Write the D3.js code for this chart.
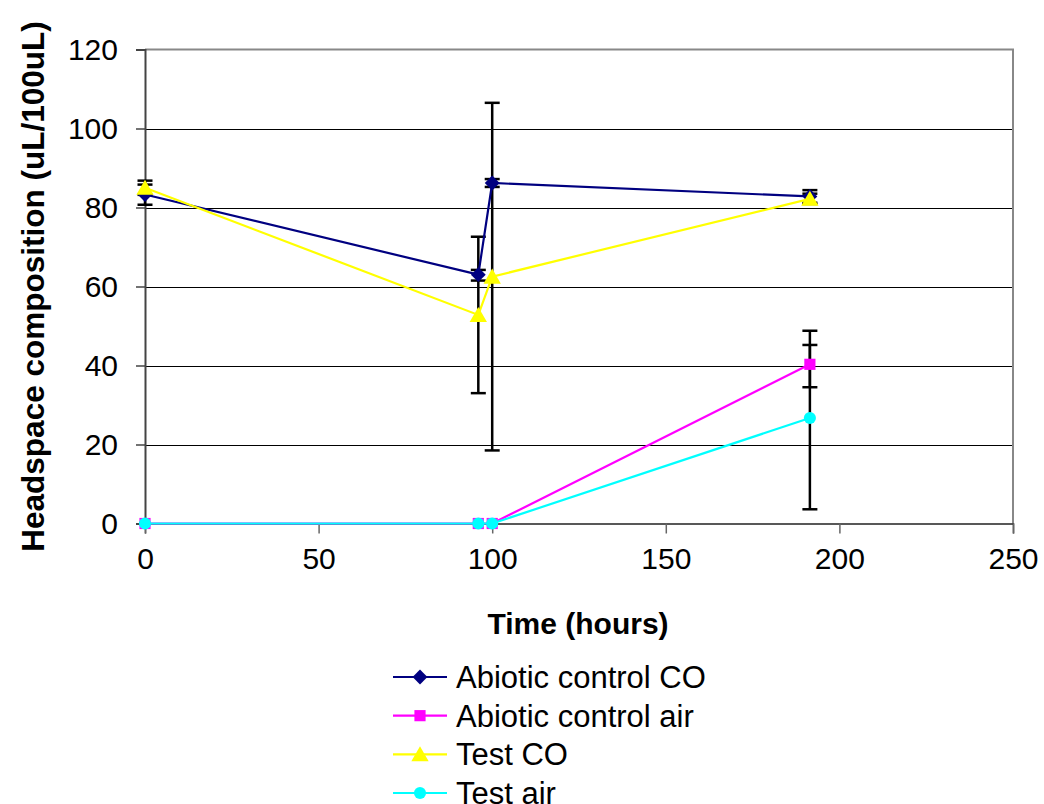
<!DOCTYPE html>
<html>
<head>
<meta charset="utf-8">
<script src="https://cdn.jsdelivr.net/npm/d3@7"></script>
<style>
  html, body { margin: 0; padding: 0; background: #fff; }
  svg { display: block; font-family: Arial, "Liberation Sans", sans-serif; }
</style>
</head>
<body>
<svg id="chart" width="1044" height="804"></svg>
<script>
// Sampling times (hours)
const times = [0, 96, 100, 191.5];

// Series names, colours and marker shapes
const seriesNames = ["Abiotic control CO", "Abiotic control air", "Test CO", "Test air"];
const seriesColors = ["#000080", "#FF00FF", "#FFFF00", "#00FFFF"];
const seriesSymbols = ["diamond", "square", "triangle", "circle"];

// Headspace composition (uL/100uL)
const abioticCO  = [83.3, 63.0, 86.2, 82.8];
const abioticAir = [0, 0, 0, 40.3];
const testCO     = [85.0, 52.8, 62.5, 82.2];
const testAir    = [0, 0, 0, 26.7];

// Error bar extents above / below each value
const abioticCOErrUp   = [2.5, 1.2, 1.0, 1.6];
const abioticCOErrDown = [2.6, 1.5, 1.0, 1.6];
const abioticAirErrUp   = [0, 0, 0, 8.5];
const abioticAirErrDown = [0, 0, 0, 5.8];
const testCOErrUp   = [1.8, 19.8, 44.0, 1.3];
const testCOErrDown = [1.8, 19.8, 44.0, 1.3];
const testAirErrUp   = [0, 0, 0, 18.5];
const testAirErrDown = [0, 0, 0, 23.1];

// Axis ticks
const xTicks = [0, 50, 100, 150, 200, 250];
const yTicks = [0, 20, 40, 60, 80, 100, 120];

const seriesValues = [abioticCO, abioticAir, testCO, testAir];
const errUp = [abioticCOErrUp, abioticAirErrUp, testCOErrUp, testAirErrUp];
const errDown = [abioticCOErrDown, abioticAirErrDown, testCOErrDown, testAirErrDown];

const series = seriesNames.map((name, i) => ({
  name,
  color: seriesColors[i],
  symbol: seriesSymbols[i],
  points: times.map((t, j) => ({ t, v: seriesValues[i][j], up: errUp[i][j], down: errDown[i][j] }))
}));

const svg = d3.select("#chart");
const plot = { left: 145, right: 1013, top: 49.5, bottom: 523.5 };

const x = d3.scaleLinear().domain([0, 250]).range([plot.left, plot.right]);
const y = d3.scaleLinear().domain([0, 120]).range([plot.bottom, plot.top]);

// Horizontal gridlines
svg.append("g")
  .selectAll("line")
  .data(yTicks.filter(d => d > 0 && d < 120))
  .join("line")
  .attr("x1", plot.left).attr("x2", plot.right)
  .attr("y1", d => Math.round(y(d)) + 0.5).attr("y2", d => Math.round(y(d)) + 0.5)
  .attr("stroke", "#000").attr("stroke-width", 1);

// Plot-area frame (top and right)
svg.append("path")
  .attr("d", `M${plot.left},${plot.top}H${plot.right}V${plot.bottom}`)
  .attr("fill", "none").attr("stroke", "#888").attr("stroke-width", 2);

// Y axis
const yAxis = svg.append("g")
  .attr("transform", `translate(${plot.left},0)`)
  .call(d3.axisLeft(y).tickValues(yTicks).tickSize(9).tickPadding(18).tickFormat(d3.format("d")));
yAxis.select(".domain").attr("stroke", "#444").attr("stroke-width", 2);
yAxis.selectAll(".tick line").attr("stroke", "#444").attr("stroke-width", 1.5);
yAxis.selectAll(".tick text")
  .attr("font-size", 30).attr("fill", "#000")
  .attr("font-family", "Arial, 'Liberation Sans', sans-serif");

// X axis
const xAxis = svg.append("g")
  .attr("transform", `translate(0,${plot.bottom})`)
  .call(d3.axisBottom(x).tickValues(xTicks).tickSize(10).tickPadding(14).tickFormat(d3.format("d")));
xAxis.select(".domain").attr("stroke", "#222").attr("stroke-width", 1.5);
xAxis.selectAll(".tick line").attr("stroke", "#666").attr("stroke-width", 1.5);
xAxis.selectAll(".tick text")
  .attr("font-size", 30).attr("fill", "#000")
  .attr("font-family", "Arial, 'Liberation Sans', sans-serif");

// Axis titles
svg.append("text")
  .attr("x", 578).attr("y", 634)
  .attr("text-anchor", "middle")
  .attr("font-size", 30).attr("font-weight", "bold")
  .text("Time (hours)");

svg.append("text")
  .attr("transform", `translate(44,${(plot.top + plot.bottom) / 2}) rotate(-90)`)
  .attr("text-anchor", "middle")
  .attr("font-size", 31.5).attr("font-weight", "bold")
  .text("Headspace composition (uL/100uL)");

// Marker shapes
const symbolTypes = {
  diamond: d3.symbolDiamond2,
  square: d3.symbolSquare,
  triangle: d3.symbolTriangle,
  circle: d3.symbolCircle
};
const symbolSizes = { diamond: 140, square: 125, triangle: 130, circle: 115 };
function symbolPath(s) {
  return d3.symbol().type(symbolTypes[s]).size(symbolSizes[s])();
}

// Error bars
const capHalf = 7.5;
const errG = svg.append("g");
series.forEach(s => {
  s.points.filter(p => p.up > 0 || p.down > 0).forEach(p => {
    const cx = x(p.t);
    const y1 = y(p.v + p.up), y2 = y(p.v - p.down);
    errG.append("line").attr("x1", cx).attr("x2", cx).attr("y1", y1).attr("y2", y2)
      .attr("stroke", "#000").attr("stroke-width", 2.5);
    [y1, y2].forEach(yy => {
      errG.append("line").attr("x1", cx - capHalf).attr("x2", cx + capHalf)
        .attr("y1", yy).attr("y2", yy)
        .attr("stroke", "#000").attr("stroke-width", 2.5);
    });
  });
});

// Series lines and markers
const line = d3.line().x(p => x(p.t)).y(p => y(p.v));
series.forEach(s => {
  const g = svg.append("g");
  g.append("path").datum(s.points).attr("d", line)
    .attr("fill", "none").attr("stroke", s.color).attr("stroke-width", 2.2);
  g.selectAll("path.m").data(s.points).join("path").attr("class", "m")
    .attr("d", symbolPath(s.symbol))
    .attr("transform", p => `translate(${x(p.t)},${y(p.v) + (s.symbol === "triangle" ? 2 : 0)})`)
    .attr("fill", s.color);
});

// Legend
const legend = svg.append("g");
const legendRowY = d3.scaleLinear().domain([0, 3]).range([677, 793]);
series.forEach((s, i) => {
  const cy = legendRowY(i);
  legend.append("line").attr("x1", 393).attr("x2", 447).attr("y1", cy).attr("y2", cy)
    .attr("stroke", s.color).attr("stroke-width", 2.2);
  legend.append("path").attr("d", symbolPath(s.symbol))
    .attr("transform", `translate(420,${cy + (s.symbol === "triangle" ? 2 : 0)})`)
    .attr("fill", s.color);
  legend.append("text").attr("x", 456).attr("y", cy + 11)
    .attr("font-size", 31).attr("fill", "#000")
    .text(s.name);
});
</script>
</body>
</html>
